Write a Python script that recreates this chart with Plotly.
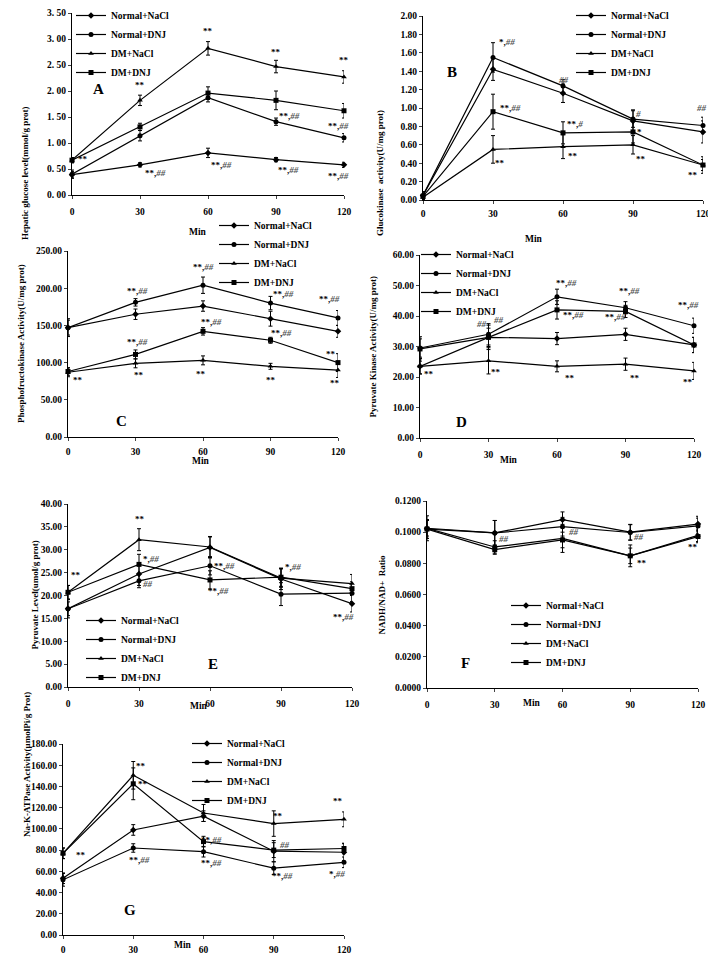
import plotly.graph_objects as go

MINUTES = [0, 30, 60, 90, 120]
GROUPS = ["Normal+NaCl", "Normal+DNJ", "DM+NaCl", "DM+DNJ"]
SYMBOLS = ["diamond", "circle", "triangle-up", "square"]

# ---- Panel A: Hepatic glucose level (mmol/g prot)
A_NORMAL_NACL = [0.39, 0.58, 0.81, 0.68, 0.58]
A_NORMAL_NACL_ERR = [0.06, 0.04, 0.09, 0.04, 0.05]
A_NORMAL_DNJ = [0.40, 1.14, 1.87, 1.41, 1.10]
A_NORMAL_DNJ_ERR = [0.08, 0.10, 0.08, 0.07, 0.08]
A_DM_NACL = [0.67, 1.82, 2.82, 2.47, 2.27]
A_DM_NACL_ERR = [0.05, 0.10, 0.13, 0.12, 0.12]
A_DM_DNJ = [0.67, 1.31, 1.96, 1.82, 1.62]
A_DM_DNJ_ERR = [0.05, 0.07, 0.12, 0.18, 0.14]

# ---- Panel B: Glucokinase activity (U/mg prot)
B_NORMAL_NACL = [0.05, 1.42, 1.16, 0.86, 0.74]
B_NORMAL_NACL_ERR = [0.04, 0.12, 0.10, 0.12, 0.12]
B_NORMAL_DNJ = [0.05, 1.55, 1.24, 0.88, 0.81]
B_NORMAL_DNJ_ERR = [0.04, 0.16, 0.07, 0.09, 0.09]
B_DM_NACL = [0.03, 0.55, 0.58, 0.60, 0.38]
B_DM_NACL_ERR = [0.03, 0.15, 0.13, 0.10, 0.09]
B_DM_DNJ = [0.04, 0.96, 0.73, 0.74, 0.38]
B_DM_DNJ_ERR = [0.03, 0.19, 0.12, 0.12, 0.06]

# ---- Panel C: Phosphofructokinase activity (U/mg prot)
C_NORMAL_NACL = [147, 165, 176, 159, 142]
C_NORMAL_NACL_ERR = [10, 7, 7, 10, 8]
C_NORMAL_DNJ = [147, 181, 204, 180, 160]
C_NORMAL_DNJ_ERR = [12, 5, 11, 9, 10]
C_DM_NACL = [87, 99, 103, 95, 90]
C_DM_NACL_ERR = [6, 6, 6, 4, 10]
C_DM_DNJ = [88, 111, 142, 130, 100]
C_DM_DNJ_ERR = [5, 6, 5, 4, 12]

# ---- Panel D: Pyruvate kinase activity (U/mg prot)
D_NORMAL_NACL = [23.5, 33.0, 32.6, 34.0, 30.5]
D_NORMAL_NACL_ERR = [2.5, 4.0, 2.0, 2.0, 2.5]
D_NORMAL_DNJ = [29.5, 34.0, 46.3, 42.7, 36.8]
D_NORMAL_DNJ_ERR = [3.0, 3.5, 2.5, 2.0, 2.5]
D_DM_NACL = [23.5, 25.3, 23.5, 24.2, 22.0]
D_DM_NACL_ERR = [2.5, 4.3, 1.8, 2.0, 2.8]
D_DM_DNJ = [29.2, 33.0, 42.0, 41.5, 30.5]
D_DM_DNJ_ERR = [4.0, 3.0, 3.0, 2.0, 2.5]

# ---- Panel E: Pyruvate level (umol/g prot)
E_NORMAL_NACL = [17.1, 24.7, 30.5, 23.6, 18.2]
E_NORMAL_NACL_ERR = [2.0, 2.5, 2.3, 2.3, 1.8]
E_NORMAL_DNJ = [17.1, 23.2, 26.5, 20.3, 20.5]
E_NORMAL_DNJ_ERR = [1.5, 1.5, 2.0, 2.5, 1.8]
E_DM_NACL = [20.7, 32.2, 30.6, 23.8, 22.6]
E_DM_NACL_ERR = [1.5, 2.4, 2.3, 2.0, 2.0]
E_DM_DNJ = [20.7, 26.8, 23.4, 24.0, 21.5]
E_DM_DNJ_ERR = [1.5, 2.2, 2.0, 2.0, 1.5]

# ---- Panel F: NADH/NAD+ ratio
F_NORMAL_NACL = [0.1025, 0.0995, 0.1080, 0.1000, 0.1052]
F_NORMAL_NACL_ERR = [0.008, 0.008, 0.005, 0.005, 0.005]
F_NORMAL_DNJ = [0.1020, 0.0995, 0.1035, 0.0998, 0.1040]
F_NORMAL_DNJ_ERR = [0.006, 0.008, 0.006, 0.005, 0.005]
F_DM_NACL = [0.1025, 0.0905, 0.0960, 0.0848, 0.0980]
F_DM_NACL_ERR = [0.005, 0.004, 0.009, 0.005, 0.004]
F_DM_DNJ = [0.1020, 0.0888, 0.0950, 0.0848, 0.0972]
F_DM_DNJ_ERR = [0.006, 0.003, 0.005, 0.007, 0.004]

# ---- Panel G: Na-K-ATPase activity (umolPi/g Prot)
G_NORMAL_NACL = [53.5, 99, 112, 79, 78]
G_NORMAL_NACL_ERR = [5, 5, 5, 10, 8]
G_NORMAL_DNJ = [52, 82, 78.5, 63, 68.5]
G_NORMAL_DNJ_ERR = [6, 4, 5, 6, 5]
G_DM_NACL = [77, 150.5, 115, 105, 109]
G_DM_NACL_ERR = [5, 13, 8, 12, 7]
G_DM_DNJ = [77, 142.5, 88, 80, 81.5]
G_DM_DNJ_ERR = [5, 15, 5, 7, 5]

Y_TITLES = [
    "Hepatic glucose level(mmol/g prot)",
    "Glucokinase  activity(U/mg prot)",
    "Phosphofructokinase Activity(U/mg prot)",
    "Pyruvate Kinase Activity(U/mg prot)",
    "Pyruvate Level(umol/g prot)",
    "NADH/NAD+  Ratio",
    "Na-K-ATPase Activity(μmolPi/g Prot)",
]
PANEL_LETTERS = ["A", "B", "C", "D", "E", "F", "G"]
Y_MAX = [3.5, 2.0, 250, 60, 40, 0.12, 180]
Y_STEP = [0.5, 0.2, 50, 10, 5, 0.02, 20]
Y_DEC = [2, 2, 2, 2, 2, 4, 2]

SERIES = [
    [(A_NORMAL_NACL, A_NORMAL_NACL_ERR), (A_NORMAL_DNJ, A_NORMAL_DNJ_ERR), (A_DM_NACL, A_DM_NACL_ERR), (A_DM_DNJ, A_DM_DNJ_ERR)],
    [(B_NORMAL_NACL, B_NORMAL_NACL_ERR), (B_NORMAL_DNJ, B_NORMAL_DNJ_ERR), (B_DM_NACL, B_DM_NACL_ERR), (B_DM_DNJ, B_DM_DNJ_ERR)],
    [(C_NORMAL_NACL, C_NORMAL_NACL_ERR), (C_NORMAL_DNJ, C_NORMAL_DNJ_ERR), (C_DM_NACL, C_DM_NACL_ERR), (C_DM_DNJ, C_DM_DNJ_ERR)],
    [(D_NORMAL_NACL, D_NORMAL_NACL_ERR), (D_NORMAL_DNJ, D_NORMAL_DNJ_ERR), (D_DM_NACL, D_DM_NACL_ERR), (D_DM_DNJ, D_DM_DNJ_ERR)],
    [(E_NORMAL_NACL, E_NORMAL_NACL_ERR), (E_NORMAL_DNJ, E_NORMAL_DNJ_ERR), (E_DM_NACL, E_DM_NACL_ERR), (E_DM_DNJ, E_DM_DNJ_ERR)],
    [(F_NORMAL_NACL, F_NORMAL_NACL_ERR), (F_NORMAL_DNJ, F_NORMAL_DNJ_ERR), (F_DM_NACL, F_DM_NACL_ERR), (F_DM_DNJ, F_DM_DNJ_ERR)],
    [(G_NORMAL_NACL, G_NORMAL_NACL_ERR), (G_NORMAL_DNJ, G_NORMAL_DNJ_ERR), (G_DM_NACL, G_DM_NACL_ERR), (G_DM_DNJ, G_DM_DNJ_ERR)],
]

# significance marks (x in min, y in data units, text)
S, H, SH, S1H, H1, S1 = "**", "##", "**,##", "*,##", "#", "*"
MARKS = [
    [(30, 2.12, S), (60, 3.15, S), (90, 2.75, S), (120, 2.6, S), (5, 0.69, S),
     (96, 1.52, SH), (117.5, 1.32, SH), (36.7, 0.43, SH), (66, 0.57, SH), (95.6, 0.48, SH), (117.5, 0.37, SH)],
    [(36, 1.72, S1H), (60.4, 1.3, H), (92.2, 0.94, H1), (119.3, 1.0, H), (37.3, 1.0, SH), (65.1, 0.83, "**,#"),
     (92.9, 0.74, S1), (33, 0.40, S), (64.4, 0.48, S), (93.6, 0.45, S), (115.7, 0.27, S)],
    [(31, 196, SH), (60.3, 228, SH), (95.6, 192, SH), (116.3, 185, SH), (63.7, 155, SH), (31, 128, SH),
     (94.8, 140, SH), (117, 112, S), (4.4, 77, S), (31.6, 84, S), (59.3, 85, S), (90.4, 76, S), (118.5, 72, S)],
    [(27, 37.4, H), (34.3, 38.7, H), (64.2, 50.7, SH), (67.1, 40.4, SH), (91.6, 48.2, SH), (85.7, 39.8, SH),
     (117.4, 43.6, SH), (124.7, 29.1, H), (4.1, 21, S), (33.5, 21.5, S), (65.6, 19.6, S), (94, 19.6, S), (117.4, 18.5, S)],
    [(3.2, 24.5, S), (30.3, 36.7, S), (35.2, 28, S1H), (33.8, 22.5, H), (66.2, 26.5, SH), (63.4, 20.9, SH),
     (95.1, 26.2, S1H), (116.2, 15.3, SH)],
    [(33.9, 0.0953, H), (64.8, 0.1002, H), (93.5, 0.0966, H), (95, 0.0804, S), (117.8, 0.0906, S)],
    [(33.2, 158.9, S), (34.3, 142.5, S), (7.6, 75.5, S), (32.5, 70.8, SH), (63.4, 89.7, SH), (63.4, 67.7, SH),
     (94.8, 85, H), (91.6, 111.7, S), (93.7, 55.7, SH), (117.6, 126.5, S), (116.9, 57.6, S1H)],
]
LETTER_POS = [(11.7, 2.04), (12.4, 1.39), (23.7, 22), (18.2, 5.1), (61.3, 5.1), (16.9, 0.016), (28.5, 23.6)]

# page offset: the plot div sits 8px in from the page corner (default body margin)
OFF = 8
W, HGT = 716 - OFF, 963 - OFF
# plot area in window pixels: (left, right, top, bottom)
BOXES = [(72, 344, 13, 195), (423, 703, 16, 200), (68, 338, 251, 437), (420, 694, 255, 438),
         (68, 352, 504, 687), (427, 698, 501, 688), (63, 344, 744, 935)]
YTITLE_X = [18, 380, 14, 373, 27, 381, 20]
MIN_POS = [(187, 225), (545, 232), (190, 461), (520, 460), (188, 713), (543, 710), (172, 952)]
# (text start x, first row centre y)
LEGEND_POS = [(112, 14), (612, 14), (255, 224), (457, 253), (122, 619), (547, 604), (228, 742)]
TICK_STANDOFF = [5, 2, 3, 5, 5, 5, 3]


def px(x):
    return (x - OFF) / W


def py(y):
    return 1 - (y - OFF) / HGT


FONT = "Liberation Serif"

fig = go.Figure()
layout = dict(width=W, height=HGT, margin=dict(l=0, r=0, t=0, b=0, autoexpand=False),
              paper_bgcolor="white", plot_bgcolor="white",
              font=dict(family=FONT, size=9, color="black", weight="bold"))
annotations = []

for p in range(7):
    sfx = "" if p == 0 else str(p + 1)
    xa, ya = "x" + sfx, "y" + sfx
    leg = "legend" + sfx
    l, r, t, b = BOXES[p]
    ymax, step, dec = Y_MAX[p], Y_STEP[p], Y_DEC[p]
    n = int(round(ymax / step))
    tv = [round(i * step, 6) for i in range(n + 1)]
    if p == 0:
        tt = [f"{v:.2f}".replace(".", ". ") for v in tv]
    else:
        tt = [f"{v:.{dec}f}" for v in tv]
    layout["xaxis" + sfx] = dict(domain=[px(l), px(r)], anchor=ya, range=[0, 120],
                                 tickvals=MINUTES, ticks="outside", ticklen=3, showgrid=False,
                                 zeroline=False, showline=True, linecolor="black", linewidth=1,
                                 tickfont=dict(size=9.5), ticklabelstandoff=TICK_STANDOFF[p],
                                 automargin=False)
    layout["yaxis" + sfx] = dict(domain=[py(b), py(t)], anchor=xa, range=[0, ymax],
                                 tickvals=tv, ticktext=tt, ticks="outside", ticklen=3, showgrid=False,
                                 zeroline=False, showline=True, linecolor="black", linewidth=1,
                                 tickfont=dict(size=9.5), automargin=False)
    lx, ly = LEGEND_POS[p]
    layout[leg] = dict(x=px(lx - 41), y=py(ly - 13), xanchor="left", yanchor="top",
                       bgcolor="rgba(0,0,0,0)", font=dict(size=9.5, family=FONT, weight="bold"),
                       tracegroupgap=0, itemwidth=30)
    for g in range(4):
        vals, errs = SERIES[p][g]
        fig.add_trace(go.Scatter(
            x=MINUTES, y=vals, name=GROUPS[g], mode="lines+markers",
            xaxis=xa, yaxis=ya, legend=leg, cliponaxis=False,
            line=dict(color="black", width=1.2),
            marker=dict(symbol=SYMBOLS[g], size=5, color="black"),
            error_y=dict(type="data", array=errs, visible=True, color="black", thickness=1, width=2),
        ))
    for (mx, my, txt) in MARKS[p]:
        if "," in txt:
            a, c = txt.split(",")
            html = f"{a},<i><span style='color:#555'>{c}</span></i>"
        elif "#" in txt:
            html = f"<i><span style='color:#555'>{txt}</span></i>"
        else:
            html = txt
        annotations.append(dict(x=mx, y=my, xref=xa, yref=ya, text=html, showarrow=False,
                                font=dict(size=9, family=FONT), xanchor="center", yanchor="middle"))
    lxp, lyp = LETTER_POS[p]
    annotations.append(dict(x=lxp, y=lyp, xref=xa, yref=ya, text=PANEL_LETTERS[p], showarrow=False,
                            font=dict(size=15, family=FONT, weight="bold")))
    annotations.append(dict(x=px(YTITLE_X[p]), y=py((t + b) / 2), xref="paper", yref="paper",
                            text=Y_TITLES[p], textangle=-90, showarrow=False,
                            font=dict(size=9, family=FONT, weight="bold")))
    mx_, my_ = MIN_POS[p]
    annotations.append(dict(x=px(mx_), y=py(my_), xref="paper", yref="paper", text="Min",
                            showarrow=False, font=dict(size=9.5, family=FONT, weight="bold")))

layout["annotations"] = annotations
fig.update_layout(**layout)
fig.write_html("out.html")
